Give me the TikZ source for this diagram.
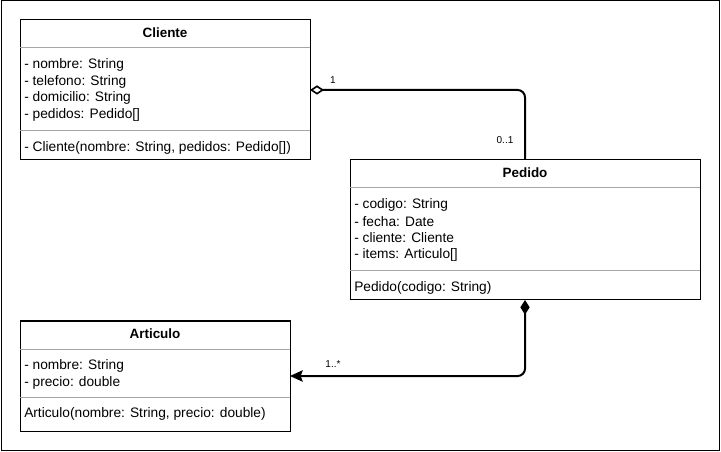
\documentclass[tikz,border=0pt]{standalone}
\usepackage{fontspec}
\setmainfont{Liberation Sans}
\usetikzlibrary{arrows.meta}
\begin{document}
\begin{tikzpicture}[x=0.75pt,y=-0.75pt,
  box/.style={draw=black,line width=0.75pt,fill=white,inner sep=0pt,outer sep=0pt},
  sep/.style={draw=black!35,line width=0.75pt},
  title/.style={font=\fontsize{10.1}{11}\selectfont\bfseries,inner sep=0pt},
  attr/.style={font=\fontsize{10.3}{11}\selectfont,anchor=west,inner sep=0pt},
  mult/.style={font=\fontsize{7.5}{8}\selectfont,inner sep=0pt},
  conn/.style={line width=1.5pt,rounded corners=5.5pt}
]
\useasboundingbox (0,0) rectangle (721,452);
\node[draw=black,line width=0.75pt,minimum width=538.9pt,minimum height=336.8pt,inner sep=0pt,outer sep=0pt,anchor=north west] (frame) at (1,1) {};

% Cliente
\node[box,minimum width=217.5pt,minimum height=105pt,anchor=north west] (cliente) at (20,20) {};
\draw[sep] (20,48) -- (310,48);
\draw[sep] (20,131) -- (310,131);
\node[title] (tc) at (165,33) {Cliente};
\node[attr] (c1) at (24,65) {- nombre: String};
\node[attr] (c2) at (24,81.5) {- telefono: String};
\node[attr] (c3) at (24,98) {- domicilio: String};
\node[attr] (c4) at (24,114.5) {- pedidos: Pedido[]};
\node[attr] (c5) at (24,148) {- Cliente(nombre: String, pedidos: Pedido[])};

% Pedido
\node[box,minimum width=262.5pt,minimum height=105pt,anchor=north west] (pedido) at (350,160) {};
\draw[sep] (350,188) -- (700,188);
\draw[sep] (350,271) -- (700,271);
\node[title] (tp) at (525,173) {Pedido};
\node[attr] (p1) at (354,205) {- codigo: String};
\node[attr] (p2) at (354,221.5) {- fecha: Date};
\node[attr] (p3) at (354,238) {- cliente: Cliente};
\node[attr] (p4) at (354,254.5) {- items: Articulo[]};
\node[attr] (p5) at (354,288) {Pedido(codigo: String)};

% Articulo
\node[box,minimum width=202.5pt,minimum height=82.5pt,anchor=north west] (articulo) at (20,321) {};
\draw[sep] (20,349) -- (290,349);
\draw[sep] (20,397) -- (290,397);
\node[title] (ta) at (155,334) {Articulo};
\node[attr] (a1) at (24,366) {- nombre: String};
\node[attr] (a2) at (24,382.5) {- precio: double};
\node[attr] (a3) at (24,414) {Articulo(nombre: String, precio: double)};

% connectors
\draw[conn,{Diamond[open,length=10.5pt,width=7pt,line width=1.2pt]}-] (cliente.east) -| (pedido.north);
\draw[conn,{Diamond[length=11pt,width=7pt]}-{Stealth[length=9.5pt,width=8.5pt,inset=1.5pt]}] (pedido.south) |- (articulo.east |- 0,376);

\node[mult] (m1) at (333,80) {1};
\node[mult] (m2) at (505,140) {0..1};
\node[mult] (m3) at (333,364) {1..*};
\end{tikzpicture}
\end{document}
